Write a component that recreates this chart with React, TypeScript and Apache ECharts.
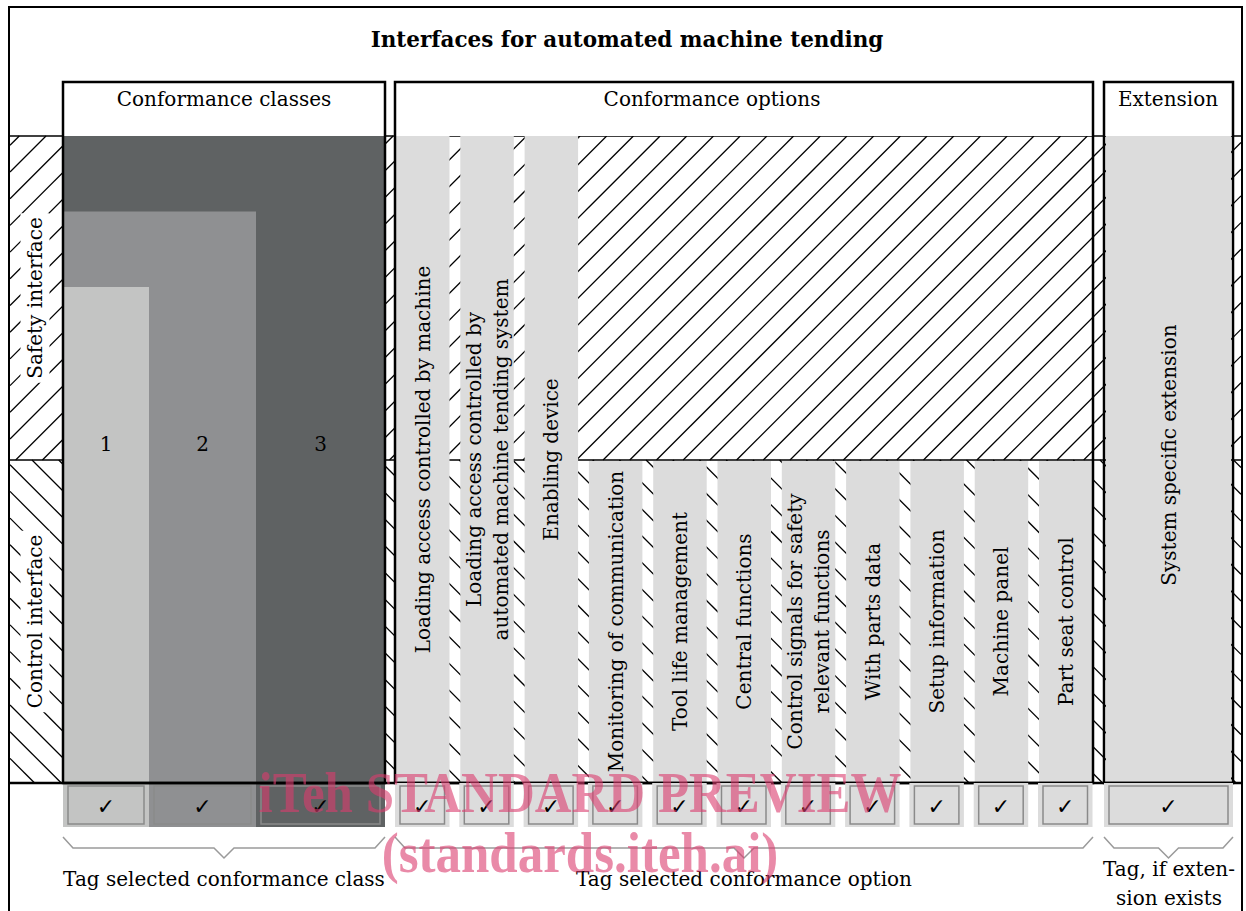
import React, { useEffect, useRef } from "react";
import * as echarts from "echarts";

// ---- content ----
const title = "Interfaces for automated machine tending";
const groupHeaders = ["Conformance classes", "Conformance options", "Extension"];
const rowLabels = ["Safety interface", "Control interface"];
const classLabels = ["1", "2", "3"];
const classShades = ["#c3c4c3", "#8f9092", "#5f6263"];
const upperOptions = [
  "Loading access controlled by machine",
  "Loading access controlled by\nautomated machine tending system",
  "Enabling device",
];
const lowerOptions = [
  "Monitoring of communication",
  "Tool life management",
  "Central functions",
  "Control signals for safety\nrelevant functions",
  "With parts data",
  "Setup information",
  "Machine panel",
  "Part seat control",
];
const extensionLabels = ["System specific extension"];
const tagLabels = [
  "Tag selected conformance class",
  "Tag selected conformance option",
  "Tag, if exten-\nsion exists",
];
const checkMark = "✓";
const watermark = ["iTeh STANDARD PREVIEW", "(standards.iteh.ai)"];

// ---- layout ----
const FX0 = 9, FY0 = 7, FX1 = 1242;
const Y_HEAD = 82, Y_TOP = 136, Y_MID = 460, Y_BOT = 783, Y_TAG = 827;
const CLASS_EDGES = [63, 149, 256, 385];
const OPT_BOX = [395, 1093];
const EXT_BOX = [1104, 1233];
const COL_START = 396, COL_PITCH = 64.3, COL_W = 53.5;
const HATCH = 26.7;
const GRAY = "#dcdcdc";
const SERIF = '"DejaVu Serif", serif';

function txt(text: string, x: number, y: number, o: any = {}) {
  const style: any = {
    text,
    x: 0,
    y: 0,
    fill: o.fill || "#000",
    fontSize: o.size || 20,
    fontFamily: o.family || SERIF,
    fontWeight: o.weight || "normal",
    lineHeight: o.lh || 27,
    align: "center",
    verticalAlign: "middle",
    textAlign: "center",
    textVerticalAlign: "middle",
  };
  if (o.bg) {
    style.backgroundColor = o.bg;
    style.padding = [1, 4];
  }
  return {
    type: "text",
    x,
    y,
    rotation: o.rot || 0,
    silent: true,
    style,
    scaleY: o.scaleY || 1,
  };
}
function rect(x: number, y: number, w: number, h: number, style: any) {
  return { type: "rect", silent: true, shape: { x, y, width: w, height: h }, style };
}
function line(x1: number, y1: number, x2: number, y2: number, style: any) {
  return { type: "line", silent: true, shape: { x1, y1, x2, y2 }, style };
}

function hatch(x0: number, y0: number, x1: number, y1: number, dir: 1 | -1, c0: number) {
  const out: any[] = [];
  const st = { stroke: "#000", lineWidth: 1.3 };
  if (dir === 1) {
    const cmin = x0 + y0, cmax = x1 + y1;
    let c = c0 - Math.ceil((c0 - cmin) / HATCH) * HATCH;
    for (; c <= cmax; c += HATCH) {
      const xs = Math.max(x0, c - y1), xe = Math.min(x1, c - y0);
      if (xe > xs) out.push(line(xs, c - xs, xe, c - xe, st));
    }
  } else {
    const cmin = x0 - y1, cmax = x1 - y0;
    let c = c0 - Math.ceil((c0 - cmin) / HATCH) * HATCH;
    for (; c <= cmax; c += HATCH) {
      const xs = Math.max(x0, y0 + c), xe = Math.min(x1, y1 + c);
      if (xe > xs) out.push(line(xs, xs - c, xe, xe - c, st));
    }
  }
  return out;
}

function brace(a: number, b: number) {
  const m = (a + b) / 2;
  return {
    type: "polyline",
    silent: true,
    shape: {
      points: [
        [a, 837], [a + 10, 848], [m - 10, 848], [m, 858], [m + 10, 848], [b - 10, 848], [b, 837],
      ],
    },
    style: { stroke: "#9a9a9a", lineWidth: 1.5, fill: null },
  };
}

function checkbox(a: number, b: number, bg: string | null) {
  const els: any[] = [];
  if (bg) els.push(rect(a, Y_BOT, b - a, Y_TAG - Y_BOT, { fill: bg }));
  els.push(rect(a + 5, 786, b - a - 10, 38, { fill: null, stroke: "#8a8a8a", lineWidth: 1.5 }));
  els.push(txt(checkMark, (a + b) / 2, 806, { family: '"DejaVu Sans", sans-serif', size: 22 }));
  return els;
}

function buildElements() {
  const els: any[] = [];
  els.push(rect(FX0, FY0, FX1 - FX0, 940, { fill: "#fff", stroke: "#000", lineWidth: 2 }));
  // hatch bands
  els.push(...hatch(FX0 + 1, Y_TOP, FX1 - 1, Y_MID, 1, 716));
  els.push(...hatch(FX0 + 1, Y_MID, FX1 - 1, Y_BOT, -1, 106));
  els.push(line(FX0, Y_TOP, FX1, Y_TOP, { stroke: "#000", lineWidth: 1.5 }));
  els.push(line(FX0, Y_MID, FX1, Y_MID, { stroke: "#000", lineWidth: 1.5 }));

  // conformance class fills (largest first)
  for (let i = classLabels.length - 1; i >= 0; i--) {
    const top = Y_TOP + (classLabels.length - 1 - i) * 75.5;
    els.push(rect(CLASS_EDGES[0], top, CLASS_EDGES[i + 1] - CLASS_EDGES[0], Y_TAG - top, { fill: classShades[i] }));
  }
  // option columns
  const allOpts = [...upperOptions, ...lowerOptions];
  allOpts.forEach((_, j) => {
    const x = COL_START + j * COL_PITCH;
    const top = j < upperOptions.length ? Y_TOP : Y_MID + 1;
    els.push(rect(x, top, COL_W, Y_BOT - top, { fill: GRAY }));
  });
  // extension fill
  els.push(rect(EXT_BOX[0] + 2, Y_TOP, EXT_BOX[1] - EXT_BOX[0] - 4, Y_BOT - Y_TOP, { fill: GRAY }));

  // header white boxes + borders
  const boxes = [[CLASS_EDGES[0], CLASS_EDGES[3]], OPT_BOX, EXT_BOX];
  boxes.forEach(([a, b]) => {
    els.push(rect(a, Y_HEAD, b - a, Y_TOP - Y_HEAD, { fill: "#fff" }));
  });
  els.push(line(FX0, Y_BOT, FX1, Y_BOT, { stroke: "#000", lineWidth: 2.5 }));
  boxes.forEach(([a, b]) => {
    els.push(rect(a, Y_HEAD, b - a, Y_BOT - Y_HEAD, { fill: null, stroke: "#000", lineWidth: 2.5 }));
  });

  // checkbox row
  classLabels.forEach((_, k) => els.push(...checkbox(CLASS_EDGES[k], CLASS_EDGES[k + 1], null)));
  allOpts.forEach((_, j) => {
    const x = COL_START + j * COL_PITCH;
    els.push(...checkbox(x - 1, x + COL_W, GRAY));
  });
  els.push(...checkbox(EXT_BOX[0], EXT_BOX[1], GRAY));

  // texts
  els.push(txt(title, 627, 39, { weight: "bold", size: 21.5 }));
  els.push(txt(groupHeaders[0], 224, 99));
  els.push(txt(groupHeaders[1], 712, 99));
  els.push(txt(groupHeaders[2], 1168, 99));
  els.push(txt(rowLabels[0], 35, (Y_TOP + Y_MID) / 2, { rot: Math.PI / 2, bg: "#fff" }));
  els.push(txt(rowLabels[1], 35, (Y_MID + Y_BOT) / 2, { rot: Math.PI / 2, bg: "#fff" }));
  classLabels.forEach((l, k) => {
    els.push(txt(l, (CLASS_EDGES[k] + CLASS_EDGES[k + 1]) / 2, 444));
  });
  allOpts.forEach((l, j) => {
    const x = COL_START + j * COL_PITCH + COL_W / 2;
    const cy = j < upperOptions.length ? (Y_TOP + Y_BOT) / 2 : (Y_MID + Y_BOT) / 2;
    els.push(txt(l, x, cy, { rot: Math.PI / 2 }));
  });
  els.push(txt(extensionLabels[0], (EXT_BOX[0] + EXT_BOX[1]) / 2, 455, { rot: Math.PI / 2 }));

  // braces & tag labels
  els.push(brace(CLASS_EDGES[0], CLASS_EDGES[3]));
  els.push(brace(OPT_BOX[0], OPT_BOX[1]));
  els.push(brace(EXT_BOX[0], EXT_BOX[1]));
  els.push(txt(tagLabels[0], 224, 879));
  els.push(txt(tagLabels[1], 744, 879));
  els.push(txt(tagLabels[2], 1169, 883, { lh: 29 }));

  // watermark
  const wm = { family: '"Liberation Serif", serif', weight: "bold", size: 51, fill: "rgba(218,60,110,0.6)", scaleY: 1.12 };
  els.push(txt(watermark[0], 580, 793, wm));
  els.push(txt(watermark[1], 580, 853, wm));
  return els;
}

export default function App() {
  const ref = useRef<HTMLDivElement>(null);
  useEffect(() => {
    if (!ref.current) return;
    const chart = echarts.init(ref.current, null, { renderer: "svg" });
    chart.setOption({
      animation: false,
      backgroundColor: "#fff",
      graphic: { elements: buildElements() },
    });
    return () => chart.dispose();
  }, []);
  return (
    <div
      ref={ref}
      style={{ position: "absolute", left: 0, top: 0, width: 1246, height: 911 }}
    />
  );
}
